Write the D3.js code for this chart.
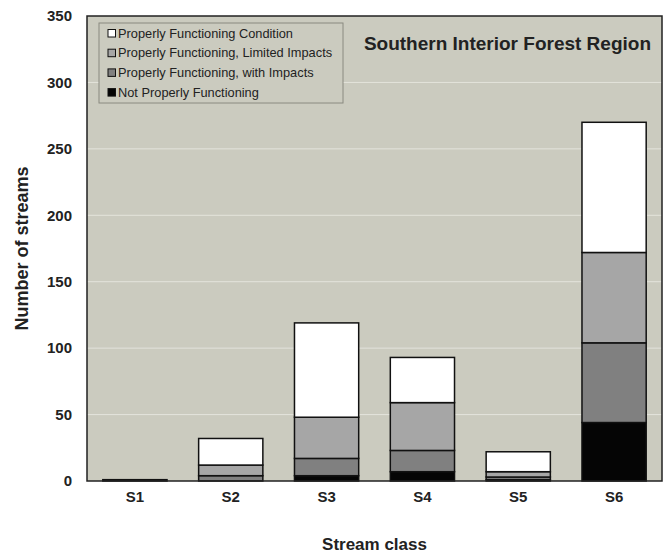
<!DOCTYPE html>
<html><head><meta charset="utf-8">
<script src="https://cdn.jsdelivr.net/npm/d3@7"></script>
<style>body{margin:0;background:#fff;} svg{display:block;font-family:Arial,"Liberation Sans",sans-serif;}</style>
</head><body>
<svg id="c" width="667" height="556"></svg>
<script>
const categories = ["S1","S2","S3","S4","S5","S6"];
const seriesNames = ["Not Properly Functioning","Properly Functioning, with Impacts","Properly Functioning, Limited Impacts","Properly Functioning Condition"];
const notProperly   = [0, 0, 4, 7, 1, 44];
const withImpacts   = [0, 4, 13, 16, 2, 60];
const limitedImpacts= [0, 8, 31, 36, 4, 68];
const properCond    = [1, 20, 71, 34, 15, 98];
const seriesColors = ["#050505","#808080","#a6a6a6","#ffffff"];
const yTicks = [0,50,100,150,200,250,300,350];

const rows = categories.map((c,i)=>({cat:c, s0:notProperly[i], s1:withImpacts[i], s2:limitedImpacts[i], s3:properCond[i]}));
const stack = d3.stack().keys(["s0","s1","s2","s3"])(rows);

const svg = d3.select("#c");
const FONT = "Arial,'Liberation Sans',sans-serif";
const m = {l:87, r:662, t:16, b:481};
const x = d3.scaleBand().domain(categories).range([m.l, m.r]).paddingInner(0.33).paddingOuter(0.165);
const y = d3.scaleLinear().domain([0,350]).range([m.b, m.t]);

svg.append("rect").attr("x",m.l).attr("y",m.t).attr("width",m.r-m.l).attr("height",m.b-m.t).attr("fill","#cbcbbf");
svg.append("g").selectAll("line").data(yTicks.filter(t=>t>0&&t<350)).join("line")
  .attr("x1",m.l).attr("x2",m.r).attr("y1",d=>y(d)).attr("y2",d=>y(d))
  .attr("stroke","#e4e4dc").attr("stroke-width",1);

svg.append("g").selectAll("g").data(stack).join("g")
  .attr("fill",(d,i)=>seriesColors[i])
  .selectAll("rect").data(d=>d.filter(p=>p[1]-p[0]>0)).join("rect")
  .attr("x",d=>x(d.data.cat)).attr("width",x.bandwidth())
  .attr("y",d=>y(d[1])).attr("height",d=>y(d[0])-y(d[1]))
  .attr("stroke","#111").attr("stroke-width",1.5);

svg.append("rect").attr("x",m.l).attr("y",m.t).attr("width",m.r-m.l).attr("height",m.b-m.t)
  .attr("fill","none").attr("stroke","#222").attr("stroke-width",1.5);

// y axis
const ya = svg.append("g").attr("transform",`translate(${m.l},0)`)
  .call(d3.axisLeft(y).tickValues(yTicks).tickSize(0).tickPadding(15));
ya.select(".domain").remove();
ya.selectAll("text").attr("font-size",15).attr("font-weight","bold").attr("fill","#222").attr("font-family",FONT);

// x axis
const xa = svg.append("g").attr("transform",`translate(0,${m.b})`)
  .call(d3.axisBottom(x).tickSize(0).tickPadding(10));
xa.select(".domain").remove();
xa.selectAll("text").attr("font-size",15).attr("font-weight","bold").attr("fill","#222").attr("font-family",FONT);

svg.append("text").attr("x",(m.l+m.r)/2).attr("y",550).attr("text-anchor","middle")
  .attr("font-size",17).attr("font-weight","bold").attr("fill","#222").text("Stream class");
svg.append("text").attr("transform",`translate(28,${(m.t+m.b)/2}) rotate(-90)`).attr("text-anchor","middle")
  .attr("font-size",18).attr("font-weight","bold").attr("fill","#222").text("Number of streams");

svg.append("text").attr("x",651).attr("y",50).attr("text-anchor","end")
  .attr("font-size",19).attr("font-weight","bold").attr("fill","#222").text("Southern Interior Forest Region");

// legend
const lg = svg.append("g");
lg.append("rect").attr("x",99).attr("y",23).attr("width",244).attr("height",80)
  .attr("fill","#cbcbbf").attr("stroke","#8a8a80").attr("stroke-width",1);
const legOrder = [3,2,1,0];
legOrder.forEach((si,k)=>{
  const cy = 33 + k*19.7;
  lg.append("rect").attr("x",108).attr("y",cy-3.5).attr("width",7.5).attr("height",7.5)
    .attr("fill",seriesColors[si]).attr("stroke","#111").attr("stroke-width",1);
  lg.append("text").attr("x",118).attr("y",cy+4.6).attr("font-size",12.8).attr("fill","#222").text(seriesNames[si]);
});
</script>
</body></html>
